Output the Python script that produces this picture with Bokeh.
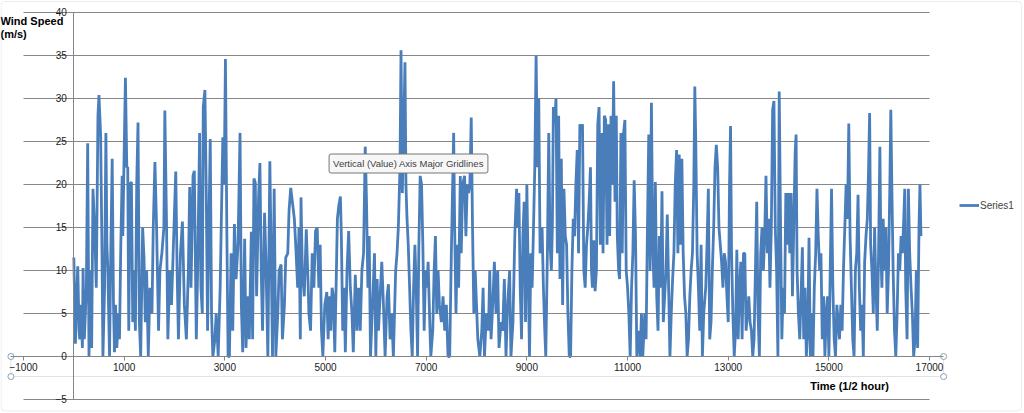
from bokeh.plotting import figure
from bokeh.models import Range1d, FixedTicker, Label, Legend, LegendItem, BoxAnnotation
from bokeh.embed import file_html
from bokeh.resources import INLINE

time_half_hour = [
0,32,51,78,104,117,143,170,183,209,249,275,301,328,354,380,413,446,479,499,532,558,578,611,637,657,676,709,736,762,788,808,828,854,887,907,933,960,973,992,1025,1052,1071,1091,1117,1144,1170,1196,1223,1249,1275,1302,1328,1367,1394,1420,1446,1479,1512,1552,1578,1611,1644,1683,1710,1749,1789,1808,1841,1868,1907,1940,1973,2025,2052,2078,2118,2157,2196,2236,2275,2302,2328,2368,2394,2433,2460,2499,2525,2552,2571,2604,2631,2657,2683,2710,2736,2762,2802,2828,2868,2907,2934,2960,2986,3012,3039,3065,3091,3124,3157,3190,3223,3262,3302,3328,3355,3394,3420,3460,3486,3526,3552,3578,3605,3631,3670,3697,3723,3749,3789,3815,3855,3894,3920,3947,3980,4013,4052,4078,4118,4144,4184,4210,4250,4276,4309,4342,4381,4408,4447,4473,4500,4513,4539,4578,4618,4657,
4670,4703,4736,4769,4802,4835,4868,4894,4920,4947,4986,5026,5052,5078,5105,5131,5157,5184,5210,5236,5263,5296,5315,5342,5368,5394,5427,5460,5493,5526,5552,5592,5625,5657,5690,5723,5756,5789,5815,5842,5868,5894,5934,5973,6000,6026,6052,6085,6118,6151,6184,6223,6250,6283,6315,6348,6394,6421,6447,6480,6500,6526,6552,6579,6598,6618,6644,6671,6697,6723,6750,6776,6802,6829,6855,6881,6908,6934,6960,6987,7013,7039,7066,7092,7131,7158,7184,7210,7237,7263,7302,7335,7368,7401,7434,7467,7500,7526,7546,7566,7592,7618,7645,7678,7697,7724,7763,7789,7816,7842,7868,7895,7921,7947,7974,8000,8026,8066,8105,8131,8158,8197,8237,8263,8289,8322,8355,8388,8421,8447,8487,8520,8553,8586,8618,8658,8684,8724,8763,8796,8816,8842,8868,8895,8921,8947,8974,9000,9026,9053,9079,9105,9132,9158,9184,9211,9237,9263,
9303,9329,9356,9376,9408,9435,9461,9487,9507,9527,9553,9579,9606,9632,9658,9685,9711,9737,9764,9790,9816,9843,9869,9895,9922,9948,9974,10001,10027,10053,10080,10106,10132,10159,10185,10211,10237,10264,10284,10303,10330,10356,10382,10409,10435,10461,10488,10514,10540,10566,10593,10619,10645,10672,10698,10724,10751,10777,10797,10823,10843,10869,10895,10922,10948,10974,11001,11027,11053,11080,11106,11132,11159,11185,11224,11251,11277,11303,11343,11369,11396,11422,11448,11475,11501,11527,11553,11580,11606,11632,11659,11685,11711,11738,11764,11790,11817,11843,11869,11896,11922,11948,11975,12001,12027,12054,12080,12106,12133,12159,12185,12211,12238,12264,12290,12317,12337,12356,12383,12409,12435,12462,12488,12514,12554,12580,12606,12633,12659,12685,12712,12738,12764,12791,12817,12843,12869,12896,12922,12948,12975,13001,13027,13047,13067,13093,13120,13146,13172,13198,13225,13251,13277,13304,13330,13356,13383,13409,13435,13462,13488,13514,13541,13567,13593,13620,13646,13672,13699,13725,13751,13778,13804,13830,13857,13883,13909,13936,13962,13988,14014,14041,
14066,14093,14119,14145,14172,14198,14224,14251,14277,14303,14330,14349,14369,14395,14422,14448,14474,14501,14527,14553,14580,14606,14632,14659,14685,14711,14738,14764,14790,14817,14843,14869,14896,14922,14948,14974,15001,15027,15053,15080,15106,15132,15159,15185,15211,15238,15264,15290,15317,15343,15369,15396,15422,15448,15475,15501,15527,15554,15580,15606,15632,15659,15685,15711,15738,15764,15790,15810,15830,15856,15883,15909,15935,15962,15988,16014,16034,16054,16080,16106,16133,16159,16185,16212,16231,16251,16277,16304,16330,16356,16383,16409,16435,16462,16488,16508,16527,16554,16580,16606,16633,16659,16685,16712,16738,16764,16791,16810,16830,
]

wind_speed = [
11.5,1.5,6,10.5,3,2,6,1,10.3,2,8,24.8,0,10,1,19.5,15,8,28,30.4,25.8,13,0,8,26,13,10,0,13,23,6,0.5,6,1,5,2,13,21,14,21,32.4,22,22,3,20,20.3,4,10,3,20,27.2,4,0,15,11.5,4,10,0,8,5,15,22.6,15,3,10,12,15,28.6,15.7,2,10,6,12,21.5,10,2,12,15.7,6,2,10,19.7,8,21,21.6,2,10,26,8,5,29,31,19,3,15,25.3,5,0,2,5,0,8,17,25.5,20,34.6,15,0,0,12,3,15.4,9,13,26,6,0.5,13.7,1,7,2,14.5,2,20.7,20.2,7,18.5,22.5,10,3,16.7,11.5,0,22.7,12,0,19.5,0,5,10,10.7,2,6,11.5,12,17,19.6,18,16,13,8,15,2,18.5,10,7,14.8,8,
5,3,12,8,14.6,15,8,13,3,0,6,7.5,2,7,3,8,7,0.5,8,16,17.5,18.6,14,3,8,0.5,10,14.6,8,5,0.5,9.5,3,8,3,10,12,24.4,18,8,14,0,6,12,0,9,3,7,11,6,0,7,8.4,2,5,0,10,12,15,22,35.6,19,26,34.2,20,16.2,13,8,3,0,8,13,8,0,13,21,20,13,3,10,8,11,5,0,3,10,14,5,10,6,4,7,3,6,0,0,12,20,26,15,5,13,8,21,12,20,21,14,20,19,20,27.8,15,5,10,6,2,0,3,8,0,5,3,10,2,6,11,5,10,1,4,3,9,0,6,10,0,4,14.5,19.5,15,19,8,2,14,18,4,20,10,0,12,8,15,22,35,22,30,12,
15,8,3,0,12,26,13,10,15,29,27,30,12,28,9,23,6,19.5,14,13,5,0,0,10,16,14,20,24,12,27,26.5,27,10,8,13,15,18,22,10,8,13.5,7.6,10,27,29,13,26,12,28,27.5,13,27,14,28,20,32,18,28,14,10,9,26,12,26,27.5,10,8,5,0,8,12,20.5,14,0,3,0,5,0,5,2,15,25.8,10,29.5,13,8,20.3,7,3,14,8,19.2,4,7,10,16.5,8,0,5,9,12,20,24,12,23.5,13,23,12,7,5,0,2,7,10,12,20,31.4,25,12,8,3,13,0,5,8,13,19.5,2,4,10,15,22,24.6,22,15,13,11,8,12,11,7,4,20,26.8,12,5,0,3,12.4,2,8,11,2,12,12,3,5,7,4,3,0,2,10,18,5,0,12,15,10,14,21,12,16,8,15,28.7,29.7,15,10,0,30.8,15,
2,8,5,19,13,19,12,19,7,15,23.6,25.8,10,5,2,7,12.7,2,8,0,3,13.8,0,5,0,8,12,19.5,14,10,12,2,7,0,5,7,0,10,19.5,8,2,0,6,4,2,6,3,10,15,20,16,27.1,14,8,2,0,10,12,18.8,8,3,6,0,11,14,16,22,28.3,13,10,5,15,8,3,12,24.4,12,8,16,10,15,5,10,20,28.7,20,10,3,0,5,12,10,14,12,16,19.5,8,2,19.5,12,8,5,0,2,10,1,15,20,14,
]

x_ticks = [-1000, 1000, 3000, 5000, 7000, 9000, 11000, 13000, 15000, 17000]
y_ticks = [-5, 0, 5, 10, 15, 20, 25, 30, 35, 40]
plot_x_extent = (-1000, 17000)       # plot area (gridline extent)
x_axis_line_extent = (-1250, 17280)  # selected horizontal axis line
y_axis_line_extent = (-5, 40)
series_name = "Series1"
y_title = ["Wind Speed", "(m/s)"]
x_title = "Time (1/2 hour)"
tooltip_text = "Vertical (Value) Axis Major Gridlines"

n = min(len(time_half_hour), len(wind_speed))
time_half_hour = time_half_hour[:n]
wind_speed = wind_speed[:n]

W, H = 1024, 413
p = figure(width=W, height=H, output_backend="svg", toolbar_location=None,
           x_range=Range1d(-1457, 18887), y_range=Range1d(-6.628, 41.395),
           min_border=0, min_border_left=0, min_border_right=0,
           min_border_top=0, min_border_bottom=0)
p.outline_line_color = None
p.background_fill_color = "white"
p.border_fill_color = "white"

gray = "#868686"

# horizontal major gridlines, limited to the plot area
p.xgrid.visible = False
p.ygrid.visible = False
p.segment(x0=[plot_x_extent[0]] * len(y_ticks), x1=[plot_x_extent[1]] * len(y_ticks),
          y0=y_ticks, y1=y_ticks, line_color=gray, line_width=1, level="underlay")

# selection box around the horizontal axis (Excel selection look)
sel = BoxAnnotation(left=x_axis_line_extent[0], right=x_axis_line_extent[1], top=0, bottom=-2.33,
                    fill_alpha=0, line_color="#9a9a9a", line_width=1, level="underlay")
p.add_layout(sel)

r = p.line(time_half_hour, wind_speed, line_color="#4A7EBB", line_width=2.8)

p.xaxis.fixed_location = 0
p.yaxis.fixed_location = 0
p.xaxis.bounds = x_axis_line_extent
p.yaxis.bounds = y_axis_line_extent
p.xaxis.ticker = FixedTicker(ticks=x_ticks)
p.yaxis.ticker = FixedTicker(ticks=y_ticks)
for ax in (p.xaxis[0], p.yaxis[0]):
    ax.axis_line_color = gray
    ax.major_tick_line_color = gray
    ax.minor_tick_line_color = None
    ax.major_tick_in = 0
    ax.major_tick_out = 4
    ax.major_label_text_font = "Liberation Sans"
    ax.major_label_text_font_size = "10px"
    ax.major_label_text_color = "#1a1a1a"
    ax.major_label_standoff = 3

# selection handles
p.scatter([x_axis_line_extent[0]] * 2 + [x_axis_line_extent[1]] * 2, [0, -2.33, 0, -2.33],
          size=6, marker="circle", fill_color="white", line_color="#8aa0b4", line_width=1)

legend = Legend(items=[LegendItem(label=series_name, renderers=[r])], location=(959, 198),
                margin=0, padding=0, spacing=0, glyph_width=20, glyph_height=20,
                label_standoff=1, label_text_font="Liberation Sans", label_text_font_size="10px",
                border_line_color=None, background_fill_alpha=0)
p.add_layout(legend, "center")

for i, t in enumerate(y_title):
    p.add_layout(Label(x=0, y=H - 20 - i * 13, x_units="screen", y_units="screen", text=t,
                       text_font="Liberation Sans", text_font_style="bold", text_font_size="11px",
                       text_baseline="middle", text_align="left", text_color="#000000"))
p.add_layout(Label(x=849, y=H - 385, x_units="screen", y_units="screen", text=x_title,
                   text_font="Liberation Sans", text_font_style="bold", text_font_size="11px",
                   text_baseline="middle", text_align="center", text_color="#000000"))
p.add_layout(Label(x=408, y=H - 163, x_units="screen", y_units="screen", text=tooltip_text,
                   text_font="Liberation Sans", text_font_size="9.5px", text_color="#404040",
                   text_baseline="middle", text_align="center",
                   background_fill_color="#f7f7f7", border_line_color="#767676",
                   padding=4, border_radius=2))

# outer chart border
p.add_layout(BoxAnnotation(left=0.5, right=W - 3, bottom=2.5, top=H - 1,
                           left_units="screen", right_units="screen",
                           bottom_units="screen", top_units="screen",
                           fill_alpha=0, line_color="#bcbcbc", line_width=1, border_radius=4))

open("out.html", "w").write(file_html(p, INLINE))
